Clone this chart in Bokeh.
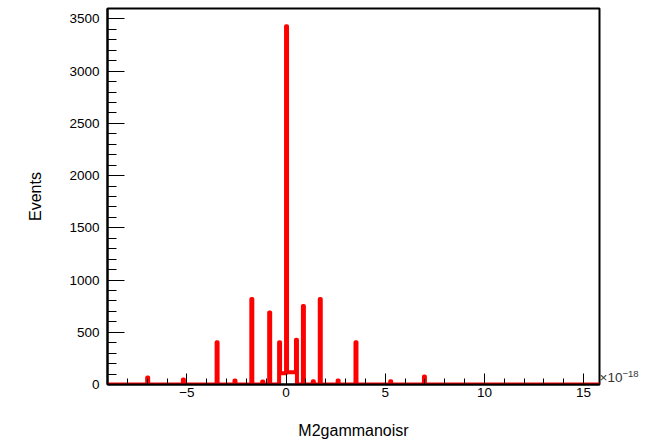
import numpy as np
from bokeh.plotting import figure
from bokeh.models import Range1d, FixedTicker, Label
from bokeh.embed import file_html
from bokeh.resources import INLINE

# ---- data (x in units of 1e-18) ----
x_min = -9.0
x_max = 15.8
bin_width = 0.05
y_max = 3600

# non-empty bins: bin centers and their counts
bin_centers = [-7.0, -5.2, -3.5, -2.6, -1.75, -1.2, -0.85, -0.35,
               -0.3, -0.25, -0.2, -0.15, -0.1, -0.05,
               0.0,
               0.05, 0.1, 0.15, 0.2, 0.25, 0.3, 0.35, 0.4, 0.45,
               0.5, 0.85, 1.35, 1.7, 2.6, 3.5, 5.25, 6.95]
bin_counts = [67, 48, 405, 38, 818, 28, 690, 405,
              108, 108, 108, 108, 108, 108,
              3430,
              118, 118, 118, 118, 118, 118, 118, 118, 118,
              428, 752, 32, 818, 38, 405, 32, 76]

x_major = [-5, 0, 5, 10, 15]
x_minor = list(range(-9, 16))
y_major = [0, 500, 1000, 1500, 2000, 2500, 3000, 3500]
y_minor = list(range(0, 3601, 100))

x_title = "M2gammanoisr"
y_title = "Events"
x_exponent = "\u221218"

# ---- build histogram outline from the bins ----
n_bins = int(round((x_max - x_min) / bin_width))
edges = x_min + bin_width * np.arange(n_bins + 1)
counts = np.zeros(n_bins)
for c, v in zip(bin_centers, bin_counts):
    idx = int(np.floor((c - x_min) / bin_width + 1e-9))
    counts[idx] = v
xs = np.repeat(edges, 2)[1:-1]
ys = np.repeat(counts, 2)

p = figure(width=661, height=445, output_backend="svg", toolbar_location=None,
           x_range=Range1d(x_min, x_max), y_range=Range1d(0, y_max),
           min_border_left=107, min_border_right=62, min_border_top=8,
           min_border_bottom=61)

p.line(xs, ys, line_color="#ff0000", line_width=4, line_join="round")

p.grid.visible = False
p.outline_line_color = "black"
p.outline_line_width = 2
p.background_fill_color = "white"
p.border_fill_color = "white"

FONT = "Liberation Sans"

xa = p.xaxis[0]
xa.ticker = FixedTicker(ticks=x_major, minor_ticks=x_minor)
xa.major_label_overrides = {-5: "\u22125"}
xa.axis_line_color = "black"
xa.axis_line_width = 2
xa.major_tick_in = 11
xa.major_tick_out = 0
xa.minor_tick_in = 6
xa.minor_tick_out = 0
xa.major_tick_line_color = "black"
xa.minor_tick_line_color = "black"
xa.major_label_text_font = FONT
xa.major_label_text_font_size = "13.5px"
xa.major_label_text_color = "black"
xa.major_label_standoff = 3
xa.axis_label = x_title
xa.axis_label_text_font = FONT
xa.axis_label_text_font_size = "16px"
xa.axis_label_text_font_style = "normal"
xa.axis_label_text_color = "black"
xa.axis_label_standoff = 22

ya = p.yaxis[0]
ya.ticker = FixedTicker(ticks=y_major, minor_ticks=y_minor)
ya.axis_line_color = "black"
ya.axis_line_width = 2
ya.major_tick_in = 17
ya.major_tick_out = 0
ya.minor_tick_in = 9
ya.minor_tick_out = 0
ya.major_tick_line_color = "black"
ya.minor_tick_line_color = "black"
ya.major_label_text_font = FONT
ya.major_label_text_font_size = "13.5px"
ya.major_label_text_color = "black"
ya.major_label_standoff = 8
ya.axis_label = y_title
ya.axis_label_text_font = FONT
ya.axis_label_text_font_size = "16px"
ya.axis_label_text_font_style = "normal"
ya.axis_label_text_color = "black"
ya.axis_label_standoff = 22

# axis exponent "×10^-18", placed in the right-side panel next to the x axis end
p.add_layout(Label(x=0, y=0, x_units="screen", y_units="screen", text="\u00d710",
                   text_font=FONT, text_font_size="13.5px", text_color="#333333",
                   text_baseline="bottom", text_align="left"), "right")
p.add_layout(Label(x=0, y=8, x_units="screen", y_units="screen", text=x_exponent,
                   text_font=FONT, text_font_size="9.5px", text_color="#333333",
                   text_baseline="bottom", text_align="left"), "right")

open("out.html", "w").write(file_html(p, INLINE))
